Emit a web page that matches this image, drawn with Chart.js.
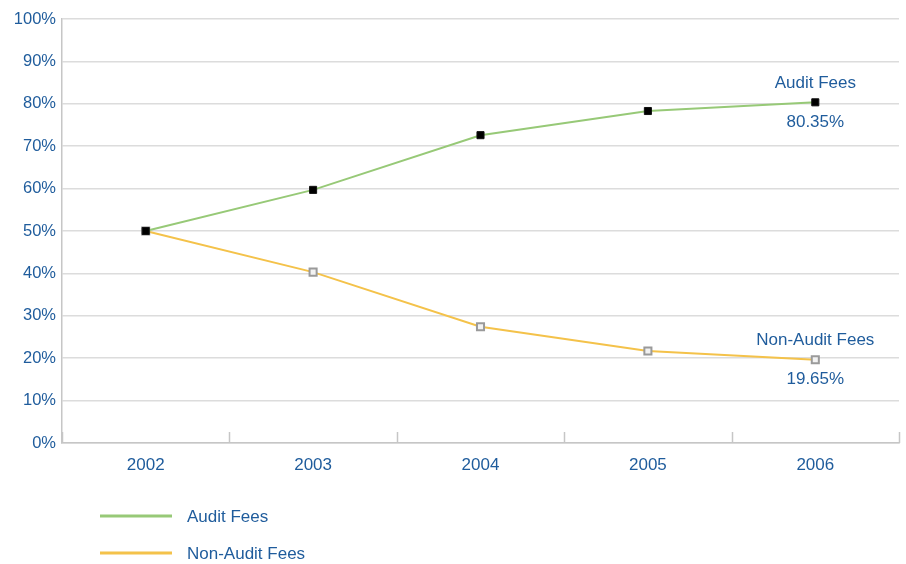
<!DOCTYPE html>
<html>
<head>
<meta charset="utf-8">
<script src="https://cdn.jsdelivr.net/npm/chart.js@4.4.1/dist/chart.umd.min.js"></script>
<style>
html,body{margin:0;padding:0;background:#fff;}
#wrap{position:relative;width:906px;height:564px;}
</style>
</head>
<body>
<div id="wrap"><canvas id="c" width="906" height="564"></canvas></div>
<script>
const categories = ["2002", "2003", "2004", "2005", "2006"];
const auditFees = [50, 59.7, 72.6, 78.3, 80.35];
const nonAuditFees = [50, 40.3, 27.4, 21.7, 19.65];
const yTicks = [0, 10, 20, 30, 40, 50, 60, 70, 80, 90, 100];
const seriesNames = ["Audit Fees", "Non-Audit Fees"];
const endLabels = ["80.35%", "19.65%"];

const TEXT = "#1f5c9c";
const FONT = "'Liberation Sans', Arial, sans-serif";
const GREEN = "#97c977";
const YELLOW = "#f4c24a";

const extras = {
  id: "extras",
  afterDraw(chart) {
    const ctx = chart.ctx;
    const xs = chart.scales.x, ys = chart.scales.y;
    const area = chart.chartArea;
    ctx.save();
    ctx.strokeStyle = "#c6c6c6";
    ctx.lineWidth = 1.5;
    for (let i = 0; i <= categories.length; i++) {
      let px;
      if (i === 0) px = area.left;
      else if (i === categories.length) px = area.right;
      else px = (xs.getPixelForValue(i - 1) + xs.getPixelForValue(i)) / 2;
      ctx.beginPath();
      ctx.moveTo(Math.round(px) + 0.5, area.bottom);
      ctx.lineTo(Math.round(px) + 0.5, area.bottom - 11);
      ctx.stroke();
    }
    ctx.font = "17px " + FONT;
    ctx.fillStyle = TEXT;
    ctx.textAlign = "center";
    ctx.textBaseline = "middle";
    const last = categories.length - 1;
    const sets = [auditFees, nonAuditFees];
    sets.forEach((arr, k) => {
      const px = xs.getPixelForValue(last);
      const py = ys.getPixelForValue(arr[last]);
      ctx.fillText(seriesNames[k], px, py - 19);
      ctx.fillText(endLabels[k], px, py + 20);
    });
    const colors = [GREEN, YELLOW];
    const rows = [516, 553];
    ctx.textAlign = "left";
    seriesNames.forEach((n, k) => {
      ctx.strokeStyle = colors[k];
      ctx.lineWidth = 3;
      ctx.beginPath();
      ctx.moveTo(100, rows[k]);
      ctx.lineTo(172, rows[k]);
      ctx.stroke();
      ctx.fillStyle = TEXT;
      ctx.fillText(n, 187, rows[k] + 1.5);
    });
    ctx.restore();
  }
};

new Chart(document.getElementById("c"), {
  type: "line",
  data: {
    labels: categories,
    datasets: [
      {
        label: seriesNames[0],
        data: auditFees,
        borderColor: GREEN,
        backgroundColor: "#000",
        borderWidth: 2,
        pointStyle: "rect",
        pointRadius: 5,
        pointBackgroundColor: "#000",
        pointBorderColor: "#111",
        pointBorderWidth: 1,
        tension: 0
      },
      {
        label: seriesNames[1],
        data: nonAuditFees,
        borderColor: YELLOW,
        backgroundColor: "#fff",
        borderWidth: 2,
        pointStyle: "rect",
        pointRadius: 5,
        pointBackgroundColor: "#f2f2f2",
        pointBorderColor: "#9a9a9a",
        pointBorderWidth: 2,
        tension: 0
      }
    ]
  },
  options: {
    responsive: false,
    animation: false,
    layout: { padding: { top: 19, right: 6, left: 0, bottom: 0 } },
    plugins: { legend: { display: false }, tooltip: { enabled: false } },
    scales: {
      x: {
        offset: true,
        grid: { display: true, drawOnChartArea: false, drawTicks: false },
        border: { display: true, color: "#c6c6c6", width: 1.5 },
        ticks: { color: TEXT, font: { family: FONT, size: 17 }, padding: 12, maxRotation: 0 },
        afterFit(s) { s.height = 121; }
      },
      y: {
        min: 0,
        max: 100,
        afterBuildTicks(s) { s.ticks = yTicks.map(v => ({ value: v })); },
        grid: { color: "#dcdcdc", lineWidth: 1.5, drawTicks: false },
        border: { display: true, color: "#c6c6c6", width: 1.5 },
        ticks: {
          color: TEXT,
          font: { family: FONT, size: 16.5 },
          padding: 6,
          callback: v => v + "%"
        },
        afterFit(s) { s.width = 62; }
      }
    }
  },
  plugins: [extras]
});
</script>
</body>
</html>
